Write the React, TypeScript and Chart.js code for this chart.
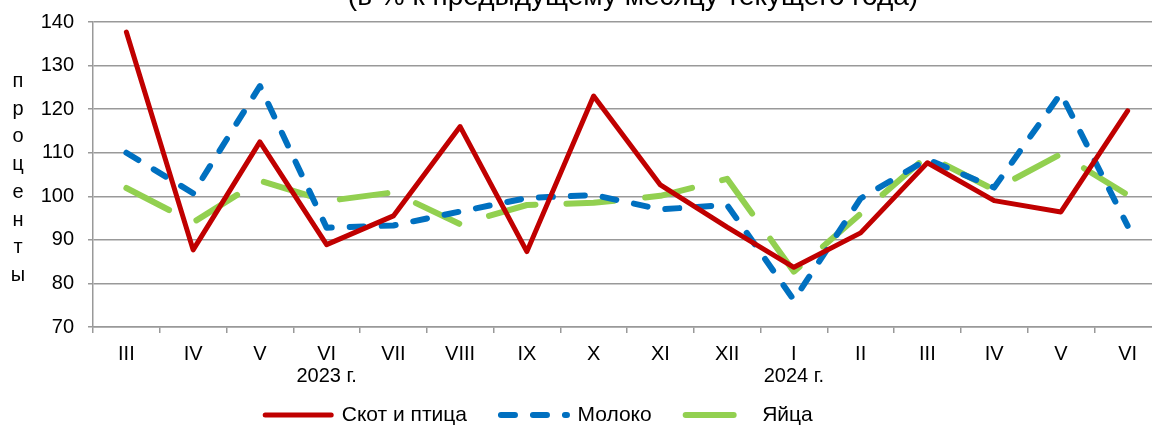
import React, { useEffect, useRef } from 'react';
import { Chart, registerables } from 'chart.js';

Chart.register(...registerables);

const FONT = '"Liberation Sans", Arial, sans-serif';

const titleText = '(в % к предыдущему месяцу текущего года)';
const yAxisTitle = 'проценты';

const months = ['III', 'IV', 'V', 'VI', 'VII', 'VIII', 'IX', 'X', 'XI', 'XII', 'I', 'II', 'III', 'IV', 'V', 'VI'];
const yearRow = ['', '', '', '2023 г.', '', '', '', '', '', '', '2024 г.', '', '', '', '', ''];

const seriesNames = ['Скот и птица', 'Молоко', 'Яйца'];

const livestock = [137.7, 87.7, 112.5, 88.9, 95.5, 116.0, 87.3, 123.0, 102.6, 92.9, 83.7, 91.6, 107.7, 99.0, 96.4, 119.6];
const milk = [110.0, 100.7, 125.3, 92.8, 93.3, 96.5, 99.6, 100.3, 97.0, 98.0, 76.2, 99.5, 108.5, 102.0, 123.6, 93.2];
const eggs = [101.9, 94.0, 103.6, 98.9, 100.9, 93.6, 98.0, 98.5, 100.1, 104.0, 82.7, 96.0, 109.3, 101.5, 109.7, 100.3];

const yMin = 70;
const yMax = 140;
const yStep = 10;

const LEGEND_PAD = 34;
const LEGEND_FONT = 21;
const LEGEND_TEXT_Y = 415;

const extraText = {
  id: 'extraText',
  afterLayout(chart: any) {
    const lg = chart.legend;
    if (lg) {
      const h = lg.bottom - lg.top;
      lg.top = LEGEND_TEXT_Y - LEGEND_FONT / 2 - LEGEND_PAD;
      lg.bottom = lg.top + h;
      lg.left -= 4;
      lg.right -= 4;
    }
  },
  afterDraw(chart: any) {
    const { ctx, chartArea } = chart;
    ctx.save();
    ctx.fillStyle = '#000';
    ctx.textAlign = 'center';
    ctx.textBaseline = 'alphabetic';
    ctx.font = `28px ${FONT}`;
    ctx.fillText(titleText, chartArea.left + 540, 5);
    ctx.font = `20px ${FONT}`;
    Array.from(yAxisTitle).forEach((ch, i) => {
      ctx.fillText(ch, chartArea.left - 75, 87 + i * 27.7);
    });
    ctx.restore();
  },
};

export default function App() {
  const ref = useRef<HTMLCanvasElement | null>(null);

  useEffect(() => {
    if (!ref.current) return;
    const labels = months.map((m, i) => (yearRow[i] ? [m, yearRow[i]] : m));
    const chart = new Chart(ref.current, {
      type: 'line',
      data: {
        labels,
        datasets: [
          {
            label: seriesNames[0],
            data: livestock,
            borderColor: '#C00000',
            backgroundColor: '#C00000',
            borderWidth: 5,
            borderCapStyle: 'round',
            borderJoinStyle: 'round',
            pointRadius: 0,
            tension: 0,
          },
          {
            label: seriesNames[1],
            data: milk,
            borderColor: '#0070C0',
            backgroundColor: '#0070C0',
            borderWidth: 6,
            borderDash: [14, 18],
            borderCapStyle: 'round',
            borderJoinStyle: 'round',
            pointRadius: 0,
            tension: 0,
          },
          {
            label: seriesNames[2],
            data: eggs,
            borderColor: '#92D050',
            backgroundColor: '#92D050',
            borderWidth: 6,
            borderDash: [48, 31],
            borderCapStyle: 'round',
            borderJoinStyle: 'round',
            pointRadius: 0,
            tension: 0,
          },
        ],
      } as any,
      options: {
        animation: false,
        responsive: false,
        maintainAspectRatio: false,
        devicePixelRatio: 1,
        layout: { padding: { left: 5, right: 0, top: 22, bottom: 0 } },
        plugins: {
          title: { display: false },
          tooltip: { enabled: false },
          legend: {
            position: 'bottom',
            labels: {
              usePointStyle: true,
              pointStyle: 'line',
              pointStyleWidth: 66,
              padding: LEGEND_PAD,
              color: '#000',
              font: { size: LEGEND_FONT, family: FONT },
              generateLabels: (c: any) =>
                c.data.datasets.map((ds: any, i: number) => ({
                  text: ds.label,
                  strokeStyle: ds.borderColor,
                  fillStyle: ds.borderColor,
                  lineWidth: ds.borderWidth,
                  lineDash: ds.borderDash || [],
                  lineCap: 'round',
                  lineJoin: 'round',
                  pointStyle: 'line',
                  hidden: false,
                  datasetIndex: i,
                  fontColor: '#000',
                })),
            },
          },
        },
        scales: {
          x: {
            offset: true,
            grid: {
              display: true,
              drawOnChartArea: false,
              drawTicks: true,
              tickLength: 6,
              offset: true,
              color: '#999',
              lineWidth: 1.5,
            },
            border: { display: true, color: '#999', width: 1.5 },
            ticks: {
              autoSkip: false,
              maxRotation: 0,
              minRotation: 0,
              padding: 10,
              color: '#000',
              font: { size: 20, family: FONT, lineHeight: 1.1 },
            },
          },
          y: {
            min: yMin,
            max: yMax,
            grid: {
              color: '#999',
              lineWidth: 1.5,
              drawTicks: true,
              tickLength: 5,
            },
            border: { display: true, color: '#999', width: 1.5 },
            ticks: {
              stepSize: yStep,
              padding: 14,
              color: '#000',
              font: { size: 20, family: FONT, lineHeight: 0.7 },
            },
            afterFit: (scale: any) => {
              scale.width = 168;
            },
          },
        },
      } as any,
      plugins: [extraText],
    });
    return () => chart.destroy();
  }, []);

  return (
    <div
      style={{
        position: 'fixed',
        left: 0,
        top: 0,
        width: 1152,
        height: 426,
        overflow: 'hidden',
        background: '#fff',
      }}
    >
      <canvas
        ref={ref}
        width={1241}
        height={462}
        style={{ position: 'absolute', left: -80, top: 0, width: 1241, height: 462 }}
      />
    </div>
  );
}
